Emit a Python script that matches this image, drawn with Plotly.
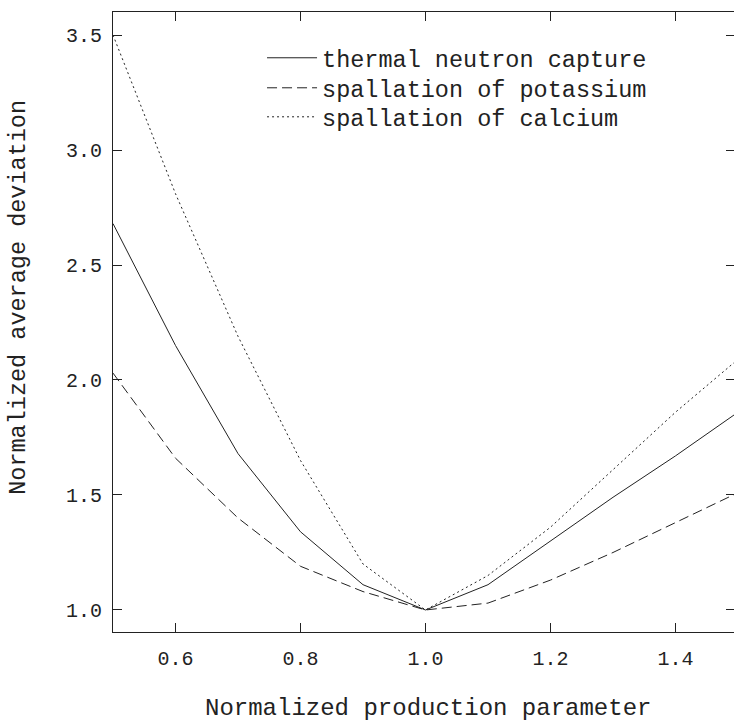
import plotly.graph_objects as go

# Normalized production parameter (x) and normalized average deviation (y)
production_param = [0.5, 0.6, 0.7, 0.8, 0.9, 1.0, 1.1, 1.2, 1.3, 1.4, 1.5]
thermal_capture = [2.68, 2.15, 1.68, 1.34, 1.11, 1.00, 1.11, 1.30, 1.49, 1.67, 1.86]
spall_potassium = [2.03, 1.66, 1.40, 1.19, 1.08, 1.00, 1.03, 1.13, 1.25, 1.38, 1.51]
spall_calcium = [3.50, 2.81, 2.19, 1.65, 1.20, 1.00, 1.15, 1.36, 1.61, 1.86, 2.09]

series_names = ["thermal neutron capture", "spallation of potassium", "spallation of calcium"]
x_ticks = [0.6, 0.8, 1.0, 1.2, 1.4]
y_ticks = [1.0, 1.5, 2.0, 2.5, 3.0, 3.5]

FONT = "Liberation Mono"
INK = "#222222"
X_RANGE = [0.5, 1.4936]
Y_RANGE = [0.9043, 3.6]

fig = go.Figure()
styles = [("solid", thermal_capture, "y"),
          ("10px,5px", spall_potassium, "y"),
          ("2px,3px", spall_calcium, "y2")]   # y2 shares the same range, carries the right ticks
legend_ids = ["legend", "legend2", "legend3"]
for (dash, ys, yax), name, lg in zip(styles, series_names, legend_ids):
    fig.add_trace(go.Scatter(
        x=production_param, y=ys, mode="lines", name=name, yaxis=yax,
        line=dict(color=INK, width=1, dash=dash),
        legend=lg, showlegend=True,
    ))

tick_style = dict(ticks="inside", ticklen=9, tickcolor=INK, tickwidth=1,
                  showgrid=False, zeroline=False,
                  tickfont=dict(family=FONT, size=20, color=INK))

# bottom axis with a mirrored top frame line and ticks
fig.update_xaxes(range=X_RANGE, tickvals=x_ticks, tickformat=".1f",
                 showline=True, linecolor=INK, linewidth=1, mirror="ticks",
                 ticklabelstandoff=8, **tick_style)

legend_style = dict(font=dict(family=FONT, size=23.5, color=INK), bgcolor="rgba(0,0,0,0)",
                    xanchor="left", yanchor="middle", itemwidth=50, x=0.24)
fig.update_layout(
    width=734, height=723,
    margin=dict(l=113, r=0, t=12, b=91),
    paper_bgcolor="white", plot_bgcolor="white",
    # left axis: line, ticks and labels
    yaxis=dict(range=Y_RANGE, tickvals=y_ticks, tickformat=".1f",
               showline=True, linecolor=INK, linewidth=1, mirror=False,
               ticklabelstandoff=6, **tick_style),
    # right-hand ticks only, without a frame line
    yaxis2=dict(overlaying="y", side="right", range=Y_RANGE, tickvals=y_ticks,
                showticklabels=False, showline=False, ticks="inside", ticklen=8,
                tickcolor=INK, tickwidth=1, showgrid=False, zeroline=False),
    legend=dict(y=0.9258, **legend_style),
    legend2=dict(y=0.8774, **legend_style),
    legend3=dict(y=0.8306, **legend_style),
    annotations=[
        dict(text="Normalized production parameter", xref="paper", yref="paper",
             x=0.508, y=-0.123, xanchor="center", yanchor="middle", showarrow=False,
             font=dict(family=FONT, size=24, color=INK)),
        dict(text="Normalized average deviation", xref="paper", yref="paper",
             x=-0.152, y=0.54, xanchor="center", yanchor="middle", showarrow=False,
             textangle=-90, font=dict(family=FONT, size=23.5, color=INK)),
    ],
)

fig.write_html("out.html")
